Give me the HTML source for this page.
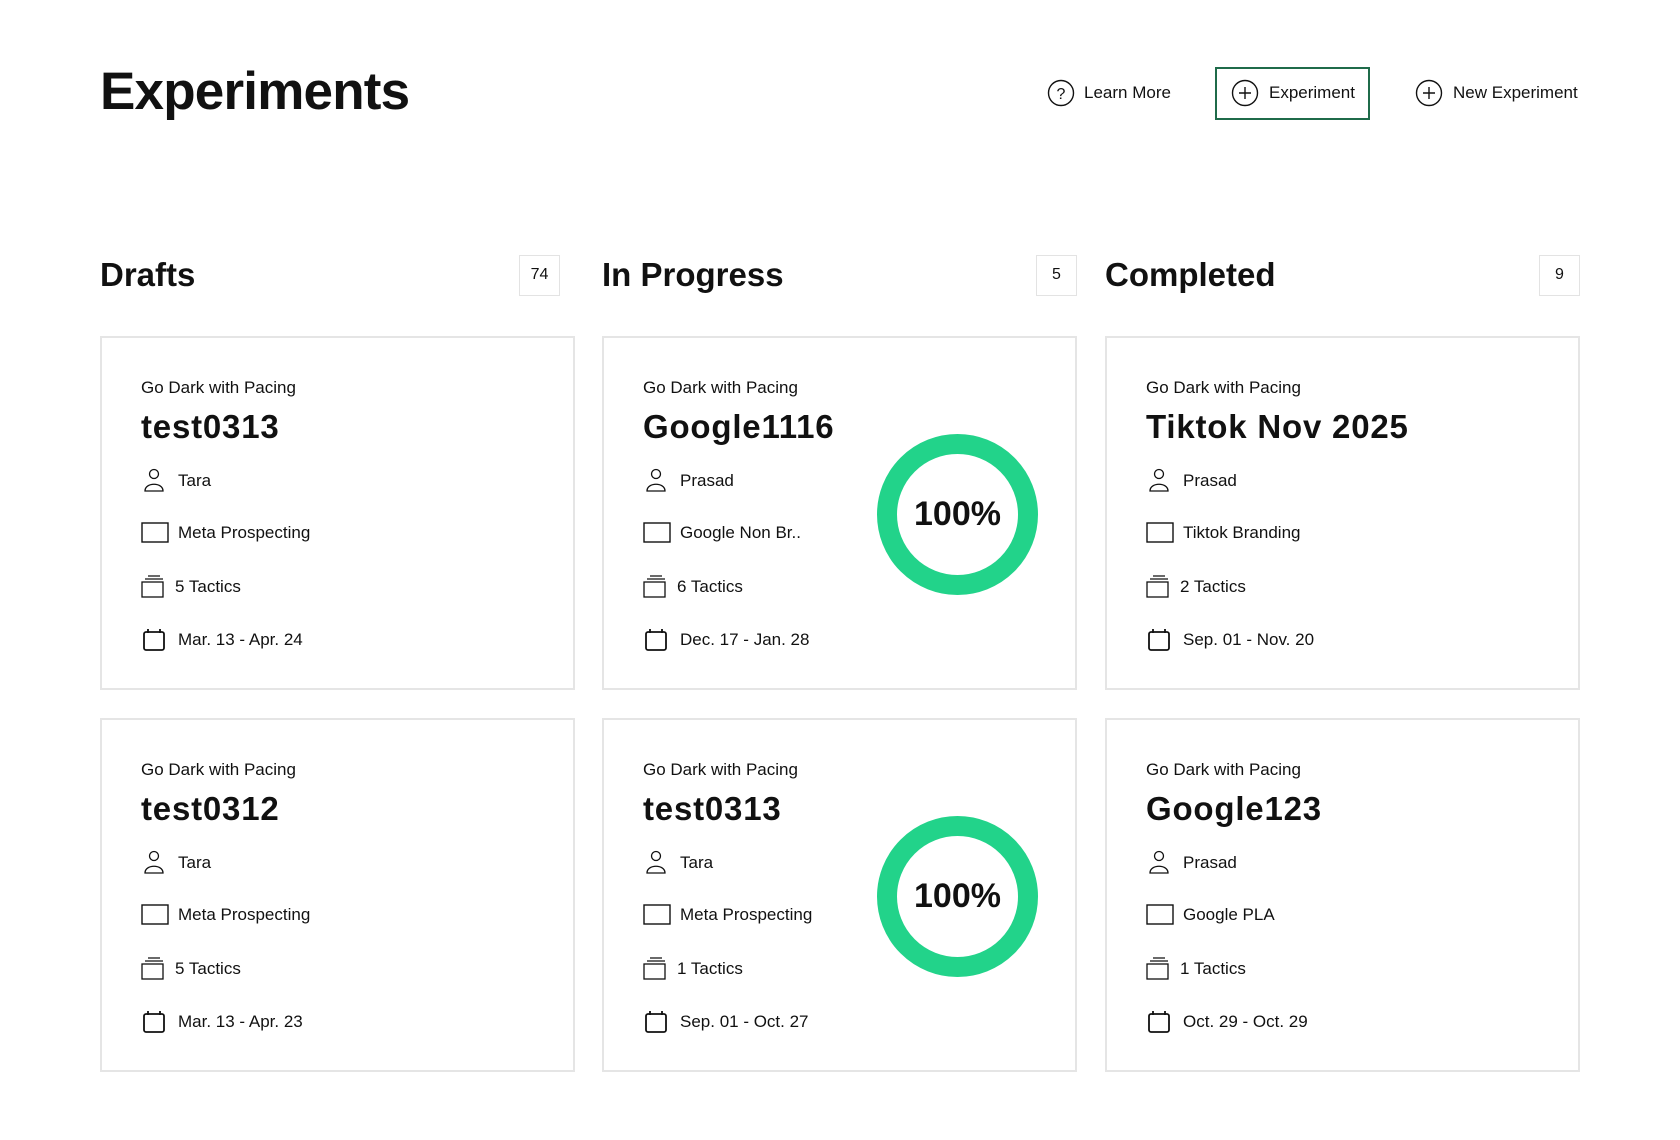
<!DOCTYPE html>
<html><head><meta charset="utf-8"><style>
*{margin:0;padding:0;box-sizing:border-box}
body{width:1680px;height:1140px;background:#fff;font-family:"Liberation Sans",Arial,sans-serif;color:#111;position:relative;overflow:hidden}
.a{position:absolute;white-space:nowrap}
h1{position:absolute;left:100px;top:62px;font-size:53px;font-weight:800;letter-spacing:-0.8px;line-height:60px}
.btn{position:absolute;font-size:17px;line-height:20px}
.hdr{position:absolute;font-size:33px;font-weight:600;line-height:40px;top:255px}
.cnt{position:absolute;top:255px;width:41px;height:41px;border:1.5px solid #e3e3e3;font-size:16px;text-align:center;line-height:38px}
.card{position:absolute;width:475px;height:354px;border:2px solid #e5e5e5;background:#fff}
.card .sub{position:absolute;left:39px;top:40px;font-size:17px;line-height:20px;white-space:nowrap}
.card .tt{position:absolute;left:39px;top:69px;font-size:33px;font-weight:600;line-height:40px;letter-spacing:0.8px;white-space:nowrap}
.row{position:absolute;left:39px;font-size:17px;line-height:20px;height:26px;width:300px}
.row svg{position:absolute;left:0;top:0}
.row span{position:absolute;left:37px;top:3px;white-space:nowrap}
.row span.t{left:34px}
.donut{position:absolute;left:273px;top:96px;width:161px;height:161px;border-radius:50%;border:20px solid #22d38a;text-align:center;font-size:34px;font-weight:600;line-height:121px}
</style></head><body>
<h1>Experiments</h1>
<div class="btn" style="left:1047px;top:83px"><svg width="28" height="28" style="position:absolute;left:0;top:-4px"><circle cx="14" cy="14" r="12.5" fill="none" stroke="#111" stroke-width="1.4"/><text x="14" y="20" font-size="16" text-anchor="middle" font-family="Liberation Sans" fill="#111">?</text></svg><span class="a" style="left:37px;top:0">Learn More</span></div>
<div style="position:absolute;left:1215px;top:67px;width:155px;height:53px;border:2px solid #1f6b4a"></div>
<div class="btn" style="left:1231px;top:83px"><svg width="28" height="28" style="position:absolute;left:0;top:-4px"><circle cx="14" cy="14" r="12.5" fill="none" stroke="#111" stroke-width="1.4"/><path d="M14 8v12M8 14h12" stroke="#111" stroke-width="1.4"/></svg><span class="a" style="left:38px;top:0">Experiment</span></div>
<div class="btn" style="left:1415px;top:83px"><svg width="28" height="28" style="position:absolute;left:0;top:-4px"><circle cx="14" cy="14" r="12.5" fill="none" stroke="#111" stroke-width="1.4"/><path d="M14 8v12M8 14h12" stroke="#111" stroke-width="1.4"/></svg><span class="a" style="left:38px;top:0">New Experiment</span></div>

<div class="hdr" style="left:100px">Drafts</div><div class="cnt" style="left:519px">74</div>
<div class="hdr" style="left:602px">In Progress</div><div class="cnt" style="left:1036px">5</div>
<div class="hdr" style="left:1105px">Completed</div><div class="cnt" style="left:1539px">9</div>

<div class="card" style="left:100px;top:336px">
<div class="sub">Go Dark with Pacing</div><div class="tt">test0313</div>
<div class="row" style="top:130px"><svg width="26" height="26"><circle cx="13" cy="6" r="4.5" fill="none" stroke="#111" stroke-width="1.3"/><path d="M4 23c0-9 18-9 18 0z" fill="none" stroke="#111" stroke-width="1.3"/></svg><span>Tara</span></div>
<div class="row" style="top:182px"><svg width="30" height="26"><rect x="1" y="3" width="26" height="19" fill="none" stroke="#111" stroke-width="1.4"/></svg><span>Meta Prospecting</span></div>
<div class="row" style="top:236px"><svg width="26" height="26"><path d="M7 2h12M4 5h18" stroke="#111" stroke-width="1.3"/><rect x="1" y="8" width="21" height="15" fill="none" stroke="#111" stroke-width="1.3"/></svg><span class="t">5 Tactics</span></div>
<div class="row" style="top:289px"><svg width="26" height="26"><rect x="3" y="5" width="20" height="18" rx="2" fill="none" stroke="#111" stroke-width="1.8"/><path d="M7 2v4M19 2v4" stroke="#111" stroke-width="1.8"/></svg><span>Mar. 13 - Apr. 24</span></div>
</div>

<div class="card" style="left:602px;top:336px">
<div class="sub">Go Dark with Pacing</div><div class="tt">Google1116</div>
<div class="row" style="top:130px"><svg width="26" height="26"><circle cx="13" cy="6" r="4.5" fill="none" stroke="#111" stroke-width="1.3"/><path d="M4 23c0-9 18-9 18 0z" fill="none" stroke="#111" stroke-width="1.3"/></svg><span>Prasad</span></div>
<div class="row" style="top:182px"><svg width="30" height="26"><rect x="1" y="3" width="26" height="19" fill="none" stroke="#111" stroke-width="1.4"/></svg><span>Google Non Br..</span></div>
<div class="row" style="top:236px"><svg width="26" height="26"><path d="M7 2h12M4 5h18" stroke="#111" stroke-width="1.3"/><rect x="1" y="8" width="21" height="15" fill="none" stroke="#111" stroke-width="1.3"/></svg><span class="t">6 Tactics</span></div>
<div class="row" style="top:289px"><svg width="26" height="26"><rect x="3" y="5" width="20" height="18" rx="2" fill="none" stroke="#111" stroke-width="1.8"/><path d="M7 2v4M19 2v4" stroke="#111" stroke-width="1.8"/></svg><span>Dec. 17 - Jan. 28</span></div>
<div class="donut">100%</div>
</div>

<div class="card" style="left:1105px;top:336px">
<div class="sub">Go Dark with Pacing</div><div class="tt">Tiktok Nov 2025</div>
<div class="row" style="top:130px"><svg width="26" height="26"><circle cx="13" cy="6" r="4.5" fill="none" stroke="#111" stroke-width="1.3"/><path d="M4 23c0-9 18-9 18 0z" fill="none" stroke="#111" stroke-width="1.3"/></svg><span>Prasad</span></div>
<div class="row" style="top:182px"><svg width="30" height="26"><rect x="1" y="3" width="26" height="19" fill="none" stroke="#111" stroke-width="1.4"/></svg><span>Tiktok Branding</span></div>
<div class="row" style="top:236px"><svg width="26" height="26"><path d="M7 2h12M4 5h18" stroke="#111" stroke-width="1.3"/><rect x="1" y="8" width="21" height="15" fill="none" stroke="#111" stroke-width="1.3"/></svg><span class="t">2 Tactics</span></div>
<div class="row" style="top:289px"><svg width="26" height="26"><rect x="3" y="5" width="20" height="18" rx="2" fill="none" stroke="#111" stroke-width="1.8"/><path d="M7 2v4M19 2v4" stroke="#111" stroke-width="1.8"/></svg><span>Sep. 01 - Nov. 20</span></div>
</div>

<div class="card" style="left:100px;top:718px">
<div class="sub">Go Dark with Pacing</div><div class="tt">test0312</div>
<div class="row" style="top:130px"><svg width="26" height="26"><circle cx="13" cy="6" r="4.5" fill="none" stroke="#111" stroke-width="1.3"/><path d="M4 23c0-9 18-9 18 0z" fill="none" stroke="#111" stroke-width="1.3"/></svg><span>Tara</span></div>
<div class="row" style="top:182px"><svg width="30" height="26"><rect x="1" y="3" width="26" height="19" fill="none" stroke="#111" stroke-width="1.4"/></svg><span>Meta Prospecting</span></div>
<div class="row" style="top:236px"><svg width="26" height="26"><path d="M7 2h12M4 5h18" stroke="#111" stroke-width="1.3"/><rect x="1" y="8" width="21" height="15" fill="none" stroke="#111" stroke-width="1.3"/></svg><span class="t">5 Tactics</span></div>
<div class="row" style="top:289px"><svg width="26" height="26"><rect x="3" y="5" width="20" height="18" rx="2" fill="none" stroke="#111" stroke-width="1.8"/><path d="M7 2v4M19 2v4" stroke="#111" stroke-width="1.8"/></svg><span>Mar. 13 - Apr. 23</span></div>
</div>

<div class="card" style="left:602px;top:718px">
<div class="sub">Go Dark with Pacing</div><div class="tt">test0313</div>
<div class="row" style="top:130px"><svg width="26" height="26"><circle cx="13" cy="6" r="4.5" fill="none" stroke="#111" stroke-width="1.3"/><path d="M4 23c0-9 18-9 18 0z" fill="none" stroke="#111" stroke-width="1.3"/></svg><span>Tara</span></div>
<div class="row" style="top:182px"><svg width="30" height="26"><rect x="1" y="3" width="26" height="19" fill="none" stroke="#111" stroke-width="1.4"/></svg><span>Meta Prospecting</span></div>
<div class="row" style="top:236px"><svg width="26" height="26"><path d="M7 2h12M4 5h18" stroke="#111" stroke-width="1.3"/><rect x="1" y="8" width="21" height="15" fill="none" stroke="#111" stroke-width="1.3"/></svg><span class="t">1 Tactics</span></div>
<div class="row" style="top:289px"><svg width="26" height="26"><rect x="3" y="5" width="20" height="18" rx="2" fill="none" stroke="#111" stroke-width="1.8"/><path d="M7 2v4M19 2v4" stroke="#111" stroke-width="1.8"/></svg><span>Sep. 01 - Oct. 27</span></div>
<div class="donut">100%</div>
</div>

<div class="card" style="left:1105px;top:718px">
<div class="sub">Go Dark with Pacing</div><div class="tt">Google123</div>
<div class="row" style="top:130px"><svg width="26" height="26"><circle cx="13" cy="6" r="4.5" fill="none" stroke="#111" stroke-width="1.3"/><path d="M4 23c0-9 18-9 18 0z" fill="none" stroke="#111" stroke-width="1.3"/></svg><span>Prasad</span></div>
<div class="row" style="top:182px"><svg width="30" height="26"><rect x="1" y="3" width="26" height="19" fill="none" stroke="#111" stroke-width="1.4"/></svg><span>Google PLA</span></div>
<div class="row" style="top:236px"><svg width="26" height="26"><path d="M7 2h12M4 5h18" stroke="#111" stroke-width="1.3"/><rect x="1" y="8" width="21" height="15" fill="none" stroke="#111" stroke-width="1.3"/></svg><span class="t">1 Tactics</span></div>
<div class="row" style="top:289px"><svg width="26" height="26"><rect x="3" y="5" width="20" height="18" rx="2" fill="none" stroke="#111" stroke-width="1.8"/><path d="M7 2v4M19 2v4" stroke="#111" stroke-width="1.8"/></svg><span>Oct. 29 - Oct. 29</span></div>
</div>
</body></html>
